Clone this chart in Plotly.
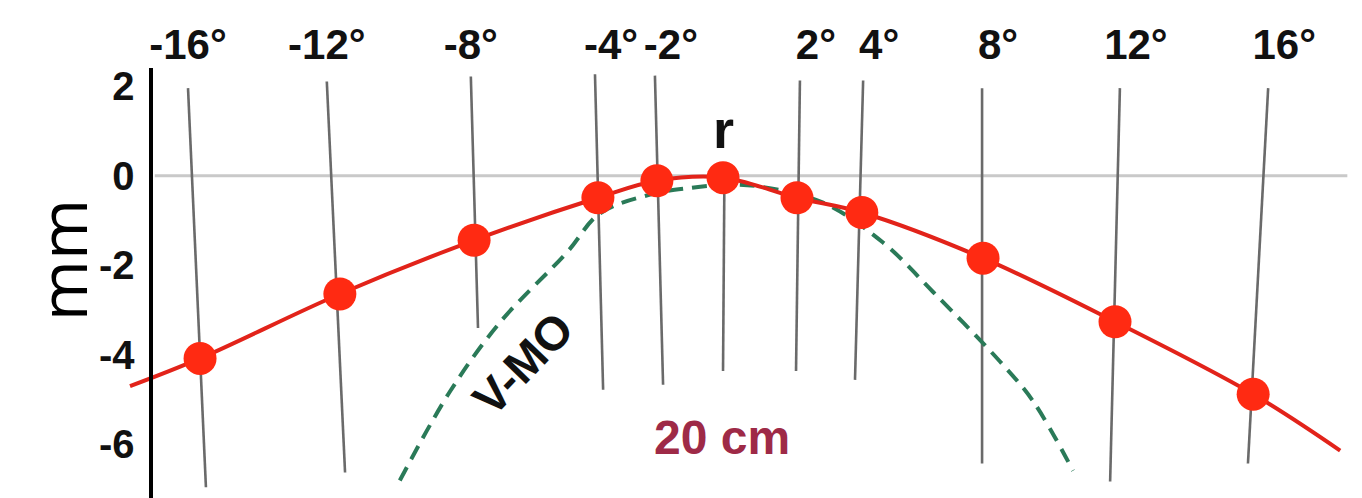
import plotly.graph_objects as go

# Nominal gaze angles and where each fixation landed (azimuth, deg / depth, mm)
angle_labels = ["-16°", "-12°", "-8°", "-4°", "-2°", "0°", "2°", "4°", "8°", "12°", "16°"]
azimuth = [-16.11, -11.82, -7.70, -3.90, -2.09, -0.06, 2.21, 4.20, 7.92, 11.97, 16.21]
depth = [-4.08, -2.64, -1.44, -0.49, -0.11, -0.04, -0.49, -0.82, -1.84, -3.26, -4.88]

# Measured horopter curve continues past the outermost fixations
horopter_x = [-18.26] + azimuth + [18.88]
horopter_y = [-4.70] + depth + [-6.14]

# Lines of sight for each fixation (top / bottom ends)
sight_top_x = [-16.48, -12.22, -7.80, -3.99, -2.15, -0.02, 2.30, 4.24, 7.89, 12.12, 16.67]
sight_top_y = [1.96, 2.11, 2.22, 2.27, 2.24, -0.26, 2.13, 2.13, 1.96, 1.96, 1.96]
sight_bot_x = [-15.93, -11.66, -7.58, -3.74, -1.90, -0.06, 2.18, 3.99, 7.89, 11.82, 16.05]
sight_bot_y = [-6.96, -6.63, -3.40, -4.78, -4.67, -4.36, -4.36, -4.56, -6.43, -6.83, -6.43]

# Theoretical Vieth-Müller circle
vmo_x = [-9.98, -8.44, -6.91, -4.85, -3.84, -2.30, -1.07, 0.0, 1.07, 3.01, 4.85, 6.38, 8.44, 9.45, 10.68]
vmo_y = [-6.81, -4.82, -3.28, -1.71, -0.84, -0.42, -0.27, -0.20, -0.24, -0.60, -1.49, -2.59, -4.15, -5.03, -6.59]

y_ticks = [2, 0, -2, -4, -6]

FONT = "Liberation Sans, Arial, sans-serif"
bold = dict(family=FONT, color="#111111", weight="bold")

fig = go.Figure()

# lines of sight
for xt, yt, xb, yb in zip(sight_top_x, sight_top_y, sight_bot_x, sight_bot_y):
    fig.add_trace(go.Scatter(
        x=[xt, xb], y=[yt, yb], mode="lines",
        line=dict(color="#6a6a6a", width=2.6),
        hoverinfo="skip", showlegend=False,
    ))

# Vieth-Müller circle
fig.add_trace(go.Scatter(
    x=vmo_x, y=vmo_y, mode="lines", line_shape="spline",
    line=dict(color="#2a7a58", width=4, dash="15px,9px"),
    hoverinfo="skip", showlegend=False,
))

# measured horopter
fig.add_trace(go.Scatter(
    x=horopter_x, y=horopter_y, mode="lines", line_shape="spline",
    line=dict(color="#e2231a", width=4),
    hoverinfo="skip", showlegend=False,
))
fig.add_trace(go.Scatter(
    x=azimuth, y=depth, mode="markers",
    marker=dict(color="#ff2a12", size=33, line=dict(width=0)),
    showlegend=False,
))

# fronto-parallel reference at 0 mm
fig.add_shape(type="line", xref="x", yref="y", x0=-17.5, x1=19.1, y0=0, y1=0,
              line=dict(color="#c9c9c9", width=3), layer="below")

fig.add_annotation(x=azimuth[5], y=depth[5], xref="x", yref="y", text="r",
                   showarrow=False, yshift=49, font=dict(size=54, **bold))
fig.add_annotation(x=-6.2, y=-4.2, xref="x", yref="y", text="V-MO",
                   showarrow=False, textangle=-46, font=dict(size=47, **bold))
fig.add_annotation(x=-0.1, y=-5.84, xref="x", yref="y", text="20 cm",
                   showarrow=False, font=dict(size=48, family=FONT,
                                              color="#9e2a47", weight="bold"))
fig.add_annotation(x=0.045, y=0.482, xref="paper", yref="paper", text="mm",
                   xanchor="center", yanchor="middle",
                   showarrow=False, textangle=-90,
                   font=dict(size=66, family="Open Sans, sans-serif", color="#000000"))

# outer angles labelled on the main axis, inner/right ones on an overlay axis
left_idx = [0, 1, 2]
right_idx = [3, 4, 6, 7, 8, 9, 10]

top_axis = dict(
    range=[-22.25, 19.55], side="top", tickmode="array",
    showgrid=False, zeroline=False, showline=False, ticks="",
    tickfont=dict(size=42, **bold),
)

fig.update_layout(
    width=1362, height=498,
    margin=dict(l=0, r=0, t=0, b=0),
    paper_bgcolor="white", plot_bgcolor="white",
    xaxis=dict(
        domain=[0, 1],
        tickvals=[sight_top_x[i] for i in left_idx],
        ticktext=[angle_labels[i] for i in left_idx],
        **top_axis,
    ),
    xaxis2=dict(
        overlaying="x", anchor="y", matches="x",
        tickvals=[sight_top_x[i] for i in right_idx],
        ticktext=[angle_labels[i] for i in right_idx],
        ticklabelshift=16,
        **top_axis,
    ),
    yaxis=dict(
        domain=[0, 0.8695], range=[-7.2, 2.4], anchor="free", position=0.1105,
        tickmode="array", tickvals=y_ticks, ticktext=[str(v) for v in y_ticks],
        showgrid=False, zeroline=False, showline=True, linecolor="#000000", linewidth=4,
        ticks="", ticklabelstandoff=6, tickfont=dict(size=40, **bold),
    ),
)

# keep an (empty) trace on the overlay axis so its labels are drawn
fig.add_trace(go.Scatter(x=[], y=[], xaxis="x2", yaxis="y", showlegend=False))

fig.write_html("out.html")
